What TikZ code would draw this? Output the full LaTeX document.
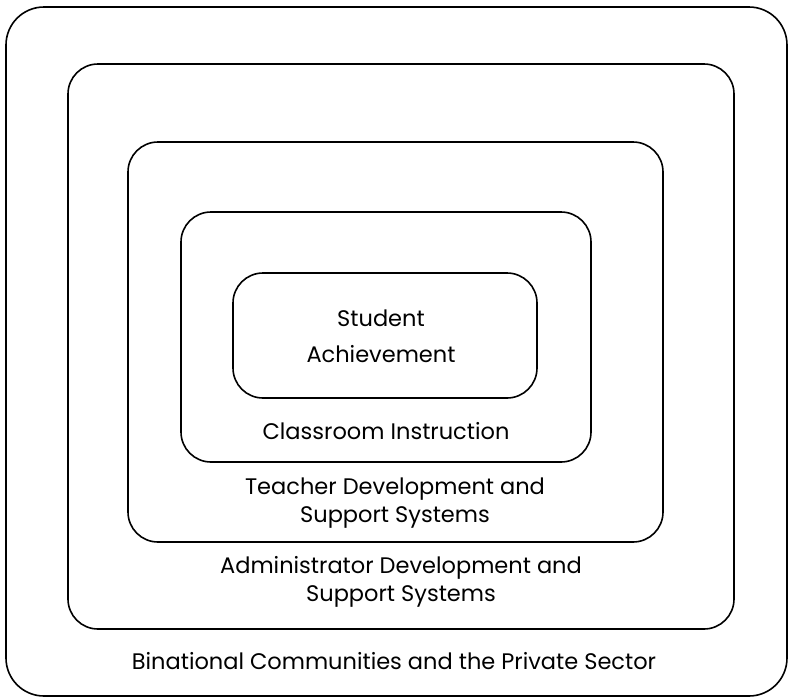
\documentclass[tikz,border=0pt]{standalone}
\usepackage{fontspec}
\setmainfont{Poppins}
\begin{document}
\begin{tikzpicture}[x=1pt,y=-1pt,
  ring/.style={draw=black,line width=1.6pt,rounded corners=30pt},
  label/.style={font=\fontsize{22.5}{28}\selectfont,align=center,inner sep=0pt,text=black}]
  \useasboundingbox[fill=white] (0,0) rectangle (792,699);
  % nested layers, outermost first
  \draw[ring,rounded corners=38pt] (6,7) rectangle (787,696);
  \draw[ring] (68,64) rectangle (734,629);
  \draw[ring] (128,142) rectangle (663,542);
  \draw[ring] (181,212) rectangle (591,462);
  \draw[ring] (233,273) rectangle (537,398);
  % layer captions
  \node[label,font=\fontsize{22.5}{36}\selectfont] (student) at (381,336) {Student\\Achievement};
  \node[label] (classroom) at (386,431) {Classroom Instruction};
  \node[label] (teacher) at (395,503) {Teacher Development and\\Support Systems};
  \node[label] (admin) at (401,582) {Administrator Development and\\Support Systems};
  \node[label] (binational) at (394,661) {Binational Communities and the Private Sector};
\end{tikzpicture}
\end{document}
